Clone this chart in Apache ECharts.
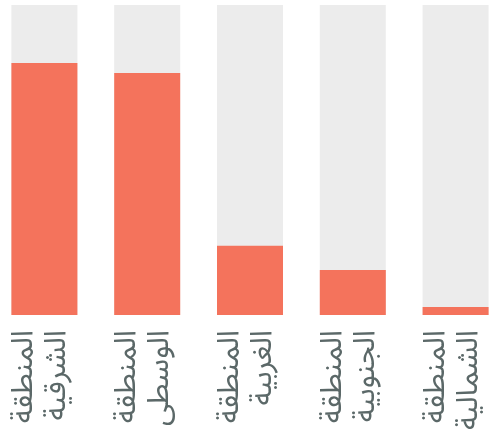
<!DOCTYPE html>
<html><head><meta charset="utf-8">
<script src="https://cdn.jsdelivr.net/npm/echarts@6/dist/echarts.min.js"></script>
<style>html,body{margin:0;padding:0;background:#fff;overflow:hidden;width:494px;height:432px}#c{position:absolute;left:-7px;top:0;width:514px;height:432px}</style>
</head><body><div id="c"></div>
<script>
var categories = ['المنطقة\nالشرقية', 'المنطقة\nالوسطى', 'المنطقة\nالغربية', 'المنطقة\nالجنوبية', 'المنطقة\nالشمالية'];
var values = [81.3, 78.1, 22.3, 14.5, 2.6];
var maxValue = 100;

var chart = echarts.init(document.getElementById('c'));
chart.setOption({
  animation: false,
  grid: { left: 0, right: 0, top: 5, bottom: 117, containLabel: false, outerBoundsMode: 'none' },
  xAxis: {
    type: 'category',
    data: categories,
    axisLine: { show: false },
    axisTick: { show: false },
    axisLabel: {
      interval: 0,
      showMinLabel: true,
      showMaxLabel: true,
      hideOverlap: false,
      rotate: 90,
      margin: 15,
      color: '#5b6868',
      fontSize: 30,
      lineHeight: 33,
      padding: [64, 0, 0, 0],
      fontFamily: '"Noto Sans Arabic", "DejaVu Sans", sans-serif'
    }
  },
  yAxis: {
    type: 'value',
    min: 0,
    max: maxValue,
    show: false
  },
  series: [{
    type: 'bar',
    data: values,
    barWidth: 66,
    itemStyle: { color: '#f4735c' },
    showBackground: true,
    backgroundStyle: { color: '#ececec' }
  }]
});
</script></body></html>
